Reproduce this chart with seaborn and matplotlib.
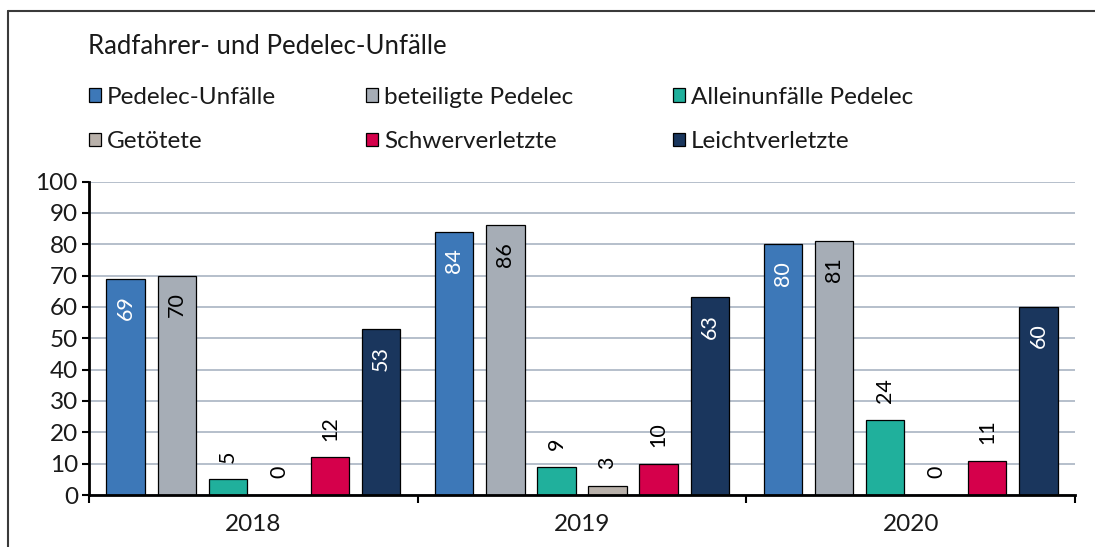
import numpy as np
import pandas as pd
import matplotlib
matplotlib.use("Agg")
import matplotlib.pyplot as plt
from matplotlib.patches import Patch
from matplotlib.lines import Line2D
import seaborn as sns

# ---------------- data ----------------
years = ["2018", "2019", "2020"]
series = ["Pedelec-Unfälle", "beteiligte Pedelec", "Alleinunfälle Pedelec",
          "Getötete", "Schwerverletzte", "Leichtverletzte"]
pedelec_unfaelle = [69, 84, 80]
beteiligte_pedelec = [70, 86, 81]
alleinunfaelle = [5, 9, 24]
getoetete = [0, 3, 0]
schwerverletzte = [12, 10, 11]
leichtverletzte = [53, 63, 60]
colors = ["#3d78b8", "#a6adb6", "#20b09c", "#b9b1aa", "#d5004b", "#1a365d"]
label_colors_inside = ["white", "black", "black", "black", "white", "white"]
title = "Radfahrer- und Pedelec-Unfälle"
yticks = list(range(0, 101, 10))

values = [pedelec_unfaelle, beteiligte_pedelec, alleinunfaelle,
          getoetete, schwerverletzte, leichtverletzte]
df = pd.DataFrame({
    "Jahr": [y for s in series for y in years],
    "Serie": [s for s in series for _ in years],
    "Wert": [v for vals in values for v in vals],
})

# ---------------- style ----------------
sns.set_theme(style="ticks")
plt.rcParams['font.family'] = ['Lato', 'DejaVu Sans']
plt.rcParams['text.color'] = '#1a1a1a'

W, H = 1095, 547
fig = plt.figure(figsize=(W / 100, H / 100), dpi=100)
ax = fig.add_axes([89 / W, 1 - 495 / H, (1075 - 89) / W, (495 - 181.5) / H])

sns.barplot(data=df, x="Jahr", y="Wert", hue="Serie", order=years,
            hue_order=series, palette=colors, saturation=1,
            width=0.933, gap=0.25, edgecolor="black", linewidth=0.9,
            errorbar=None, legend=False, ax=ax)

# value labels
for ci, cont in enumerate(ax.containers):
    for bar, v in zip(cont, values[ci]):
        xc = bar.get_x() + bar.get_width() / 2
        h = bar.get_height()
        if v >= 40:
            ax.annotate(f"{v}", (xc, h), xytext=(0, -12), textcoords="offset points",
                        rotation=90, ha="center", va="top", fontsize=15.5,
                        color=label_colors_inside[ci])
        else:
            ax.annotate(f"{v}", (xc, h), xytext=(0, 12), textcoords="offset points",
                        rotation=90, ha="center", va="bottom", fontsize=15.5,
                        color="black")

# axes
ax.set_xlim(-0.5, 2.5)
ax.set_ylim(0, 100)
ax.set_yticks(yticks)
ax.set_xlabel("")
ax.set_ylabel("")
ax.yaxis.grid(True, color="#b6bfcb", linewidth=1.4)
ax.set_axisbelow(True)
for s in ["top", "right"]:
    ax.spines[s].set_visible(False)
for s in ["left", "bottom"]:
    ax.spines[s].set_linewidth(2)
    ax.spines[s].set_color("black")
ax.tick_params(axis="y", length=5, width=1.5, color="black", labelsize=17.5, pad=3,
               labelcolor="#1a1a1a")
ax.set_xticks([-0.5, 0.5, 1.5, 2.5], minor=True)
ax.tick_params(axis="x", which="major", length=0, labelsize=17.5, pad=14,
               labelcolor="#1a1a1a")
ax.tick_params(axis="x", which="minor", length=6, width=1.5, color="black")

# title
fig.text(88 / W, 1 - 47 / H, title, fontsize=18.5, ha="left", va="center")

# legend in three columns
col_x = [89, 366, 673]
for j in range(3):
    idx = [j, j + 3]
    handles = [Patch(facecolor=colors[i], edgecolor="black", linewidth=0.9) for i in idx]
    fig.legend(handles, [series[i] for i in idx], loc="upper left",
               bbox_to_anchor=(col_x[j] / W, 1 - 87 / H), frameon=False,
               fontsize=17.5, borderpad=0, borderaxespad=0, labelspacing=0.95,
               handlelength=0.5, handleheight=0.5, handletextpad=0.25)

# frame lines of the chart box
fig.add_artist(Line2D([8 / W, 8 / W], [0, 1 - 11 / H], transform=fig.transFigure,
                      color="#3a3a3a", linewidth=1.5))
fig.add_artist(Line2D([8 / W, 1], [1 - 11 / H, 1 - 11 / H], transform=fig.transFigure,
                      color="#3a3a3a", linewidth=1.5))

fig.savefig("out.png", dpi=100)
